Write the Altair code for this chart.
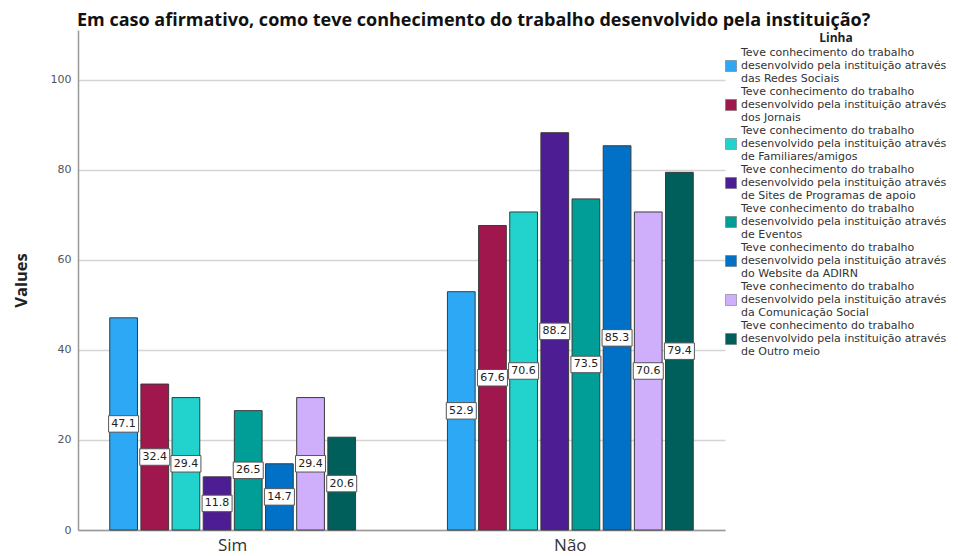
import altair as alt
import pandas as pd

categories = ["Sim", "Não"]
series = [
    "Teve conhecimento do trabalho|desenvolvido pela instituição através|das Redes Sociais",
    "Teve conhecimento do trabalho|desenvolvido pela instituição através|dos Jornais",
    "Teve conhecimento do trabalho|desenvolvido pela instituição através|de Familiares/amigos",
    "Teve conhecimento do trabalho|desenvolvido pela instituição através|de Sites de Programas de apoio",
    "Teve conhecimento do trabalho|desenvolvido pela instituição através|de Eventos",
    "Teve conhecimento do trabalho|desenvolvido pela instituição através|do Website da ADIRN",
    "Teve conhecimento do trabalho|desenvolvido pela instituição através|da Comunicação Social",
    "Teve conhecimento do trabalho|desenvolvido pela instituição através|de Outro meio",
]
sim_values = [47.1, 32.4, 29.4, 11.8, 26.5, 14.7, 29.4, 20.6]
nao_values = [52.9, 67.6, 70.6, 88.2, 73.5, 85.3, 70.6, 79.4]
colors = ["#2CA8F5", "#A0174E", "#22D3CD", "#4D1D94", "#009E97", "#0071C6", "#CFAEFB", "#005F5A"]

rows = []
for s, v in zip(series, sim_values):
    rows.append({"Resposta": "Sim", "Linha": s, "Value": v})
for s, v in zip(series, nao_values):
    rows.append({"Resposta": "Não", "Linha": s, "Value": v})
df = pd.DataFrame(rows)

FONT = "Open Sans"
SMALL = "DejaVu Sans"

x = alt.X("Resposta:N", sort=categories, title=None,
          scale=alt.Scale(paddingInner=0.272, paddingOuter=0.094),
          axis=alt.Axis(labelAngle=0, labelFontSize=17, labelColor="#333", labelFont=FONT,
                        labelPadding=7, ticks=False, domainColor="#999", domainWidth=1.5, grid=False))
xo = alt.XOffset("Linha:N", sort=series, scale=alt.Scale(paddingInner=0.11))
y_scale = alt.Scale(domain=[0, 111], nice=False)

# symbol shifted down one text line so it sits beside the middle line of each label
legend_symbol = "M-1,1.36H1V3.36H-1Z"

bars = alt.Chart(df).mark_bar(stroke="#3a3a3a", strokeWidth=1).encode(
    x=x,
    xOffset=xo,
    y=alt.Y("Value:Q", scale=y_scale, title="Values",
            axis=alt.Axis(values=[0, 20, 40, 60, 80, 100], grid=True, gridColor="#d4d4d4",
                          gridWidth=1.5, ticks=False, domainColor="#999", domainWidth=1.5,
                          labelFontSize=11, labelColor="#555", labelFont=SMALL, labelPadding=7,
                          titleFontSize=16.5, titleFontWeight="bold", titleFont=FONT,
                          titleColor="#222", titlePadding=21)),
    color=alt.Color("Linha:N", sort=series, scale=alt.Scale(domain=series, range=colors),
                    legend=alt.Legend(title="Linha", orient="none", legendX=647, legendY=3,
                                      titleAnchor="middle", titleFontSize=12, titleFont=FONT,
                                      titleFontWeight="bold", titleColor="#222",
                                      labelFont=SMALL, labelFontSize=11, labelColor="#333",
                                      labelExpr="split(datum.label, '|')", labelLimit=300,
                                      symbolType=legend_symbol, symbolSize=121,
                                      symbolStrokeColor="#666", symbolStrokeWidth=0.5,
                                      labelOffset=4, rowPadding=2, titlePadding=2)),
)

box = alt.Chart(df).transform_calculate(mid="datum.Value / 2").mark_point(
    shape="M-1,-0.55H1V0.55H-1Z", size=900, filled=True, fill="white", stroke="#555",
    strokeWidth=1, opacity=1
).encode(
    x=x, xOffset=xo, y=alt.Y("mid:Q", scale=y_scale)
)

labels = alt.Chart(df).transform_calculate(mid="datum.Value / 2").mark_text(
    font=SMALL, fontSize=11, color="#222"
).encode(
    x=x, xOffset=xo, y=alt.Y("mid:Q", scale=y_scale),
    text=alt.Text("Value:Q", format=".1f")
)

chart = alt.layer(bars, box, labels).properties(
    width=647, height=500,
    autosize=alt.AutoSizeParams(type="none"),
    padding={"left": 70, "top": 22, "right": 225, "bottom": 30},
    title=alt.TitleParams("Em caso afirmativo, como teve conhecimento do trabalho desenvolvido pela instituição?",
                          anchor="start", frame="group", dx=-1, offset=0, fontSize=18, font=FONT,
                          fontWeight="bold", color="#111"),
).configure_view(stroke=None)

chart.save("out.html", embed_options={"renderer": "svg", "actions": False})
